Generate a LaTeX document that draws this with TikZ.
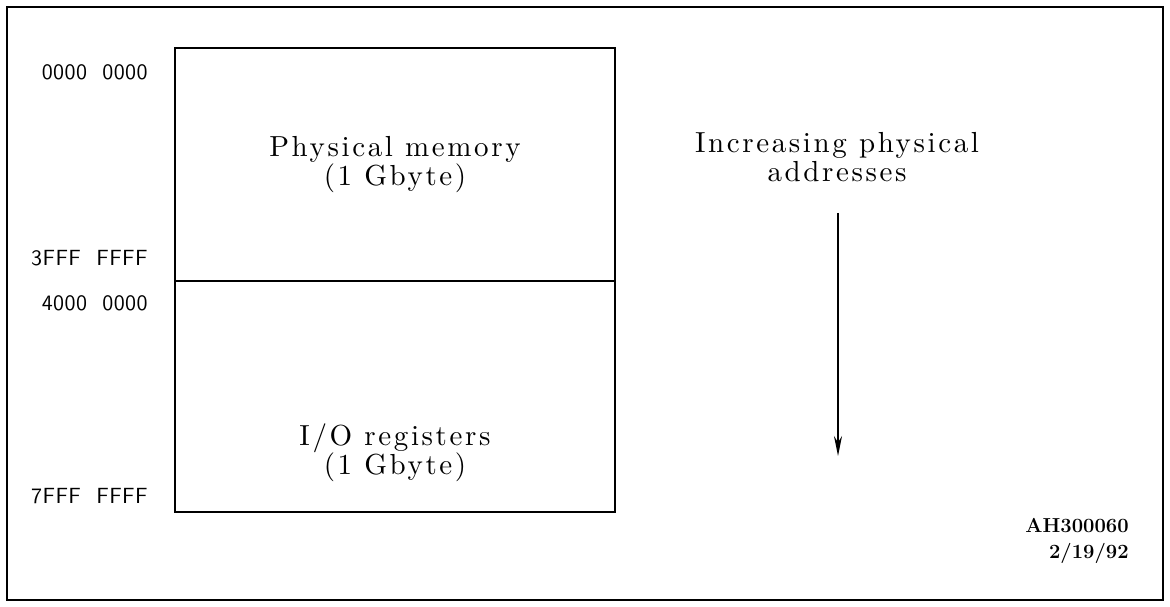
\documentclass[tikz,border=0pt]{standalone}
\usepackage{fontspec}
\usetikzlibrary{arrows.meta, positioning}
\newfontfamily\spacedrm{lmroman10-regular.otf}[LetterSpace=9]
\newfontfamily\spacedsf{lmsans10-regular.otf}[LetterSpace=2]

\begin{document}
\begin{tikzpicture}[x=0.02cm, y=-0.02cm, >=Stealth,
    region/.style={draw, line width=1pt, minimum width=8.8cm, inner sep=0pt},
    addr/.style={anchor=east, inner sep=0pt, font=\spacedsf\fontsize{12.5}{15}\selectfont},
    caption/.style={align=center, font=\spacedrm\fontsize{16.5}{16.5}\selectfont},
    tag/.style={align=right, anchor=east, inner sep=0pt, font=\bfseries\fontsize{11.5}{14.5}\selectfont}]

    % Fix the page size
    \useasboundingbox (0,0) rectangle (1170,607);

    % Draw outer frame
    \draw[line width=1.6pt] (7,7) rectangle (1163,600);

    % Memory regions
    \node[region, minimum height=4.66cm] (phys) at (395,164.5) {};
    \node[region, minimum height=4.62cm] (ioreg) at (395,396.5) {};
    \node[caption] (physlbl) at (395,165) {Physical memory\\(1 Gbyte)};
    \node[caption] (iolbl) at (395,453) {I/O registers\\(1 Gbyte)};

    % Address labels
    \node[addr] (a0) at (148,72) {0000\hspace{0.7em}0000};
    \node[addr] (a1) at (148,258) {3FFF\hspace{0.7em}FFFF};
    \node[addr] (a2) at (148,303) {4000\hspace{0.7em}0000};
    \node[addr] (a3) at (148,496) {7FFF\hspace{0.7em}FFFF};

    % Direction of increasing addresses
    \node[caption] (dirlbl) at (837,157) {Increasing physical\\addresses};
    \coordinate (arrtop) at (838,213);
    \coordinate (arrbot) at (838,456);
    \draw[-{Stealth[length=0.4cm, width=0.16cm]}, line width=0.9pt] (arrtop) -- (arrbot);

    % Figure tag
    \node[tag] (figtag) at (1129,541) {AH300060\\2/19/92};

\end{tikzpicture}
\end{document}
